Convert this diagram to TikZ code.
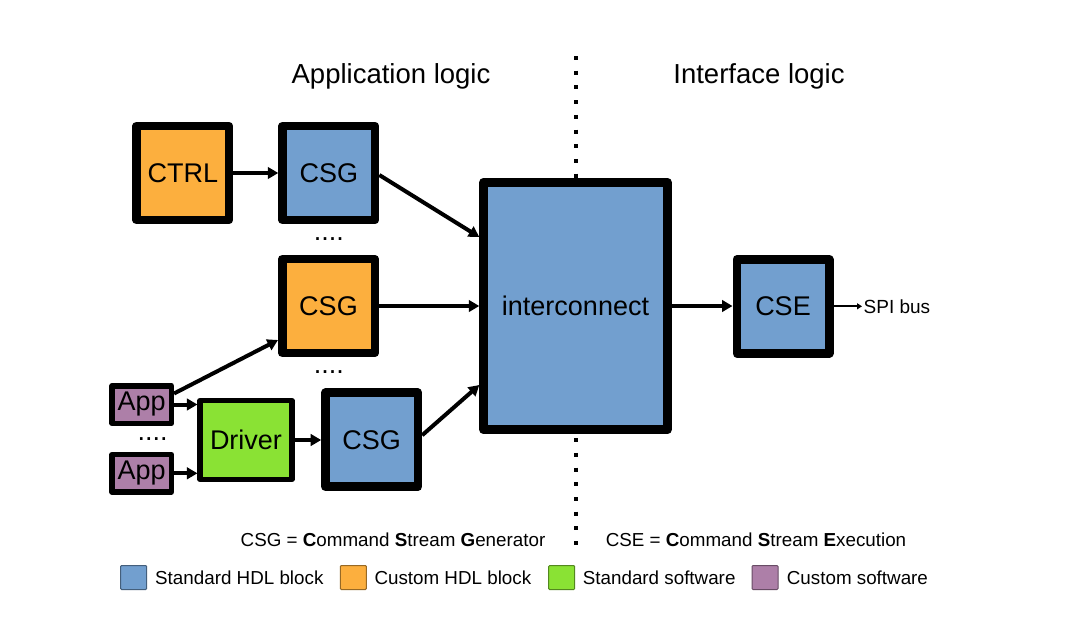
\documentclass[tikz,border=0pt]{standalone}
\usepackage{fontspec}
\setmainfont{Liberation Sans}
\usetikzlibrary{arrows.meta}
\definecolor{cblue}{HTML}{729FCF}
\definecolor{corange}{HTML}{FCAF3E}
\definecolor{cgreen}{HTML}{8AE234}
\definecolor{cpurple}{HTML}{AD7FA8}
\begin{document}
\begin{tikzpicture}[x=1pt,y=-1pt,
  blk/.style={draw=black, line width=8.5pt, line join=round, minimum width=92.5pt, minimum height=94pt, inner sep=0pt, font=\fontsize{27}{30}\selectfont},
  swbox/.style={draw=black, line width=5.5pt, line join=round, inner sep=0pt, font=\fontsize{27}{30}\selectfont},
  arr/.style={line width=4pt, -{Triangle[length=10.5pt,width=11.5pt]}},
  thinarr/.style={line width=1.8pt, -{Triangle[length=5pt,width=6pt]}},
  title/.style={font=\fontsize{27.5}{30}\selectfont, anchor=base},
  dotsty/.style={font=\fontsize{27}{30}\selectfont, anchor=base, inner sep=0pt},
  note/.style={font=\fontsize{18.8}{22}\selectfont, inner sep=0pt},
  legsw/.style={line width=1pt, minimum width=26pt, minimum height=24pt, inner sep=0pt, rounded corners=1pt},
  legtxt/.style={font=\fontsize{18.8}{22}\selectfont, inner sep=0pt, anchor=west},
  dotline/.style={line width=4pt, dash pattern=on 4pt off 10.7pt}
]
\useasboundingbox[fill=white] (0,0) rectangle (1070,621);

% titles
\node[title] (tapp) at (391,83) {Application logic};
\node[title] (tif) at (759,83) {Interface logic};

% dotted separator
\coordinate (dtop) at (576,56);
\coordinate (dbot) at (576,552);
\draw[dotline] (dtop) -- (dbot);

% blocks
\node[blk, fill=corange] (ctrl) at (182.8,173) {CTRL};
\node[blk, fill=cblue] (csg1) at (328.8,173) {CSG};
\node[blk, fill=corange] (csg2) at (328.5,306) {CSG};
\node[blk, fill=cblue] (csg3) at (371.7,439.7) {CSG};
\node[blk, fill=cblue, line width=9pt, minimum width=183.4pt, minimum height=247.6pt] (ic) at (575.5,306) {interconnect};
\node[blk, fill=cblue] (cse) at (783,306.3) {CSE};
\node[swbox, fill=cgreen, minimum width=91.6pt, minimum height=78.7pt] (drv) at (246,440) {Driver};
\node[swbox, fill=cpurple, minimum width=59.2pt, minimum height=37.5pt] (app1) at (141.7,404.5) {App};
\node[swbox, fill=cpurple, minimum width=59.2pt, minimum height=37.5pt] (app2) at (141.7,473.3) {App};
\node[font=\fontsize{19}{22}\selectfont, anchor=west, inner sep=1.5pt] (spi) at (862,306.7) {SPI bus};

% ellipses
\node[dotsty] (d1) at (328.8,240) {....};
\node[dotsty] (d2) at (328.8,373.5) {....};
\node[dotsty] (d3) at (152.7,440) {....};

% connectors
\draw[arr] (ctrl.east) -- (csg1.west);
\draw[arr] ([yshift=-2pt]csg1.east) -- ([yshift=69pt]ic.west);
\draw[arr] (csg2.east) -- (ic.west);
\draw[arr] ([yshift=4.5pt]csg3.east) -- ([yshift=-79pt]ic.west);
\draw[arr] ([yshift=11pt]app1.east) -- ([yshift=-34pt]csg2.west);
\draw[arr] (app1.east) -- (app1.east -| drv.west);
\draw[arr] (app2.east) -- (app2.east -| drv.west);
\draw[arr] (drv.east) -- (drv.east -| csg3.west);
\draw[arr] (ic.east) -- (ic.east -| cse.west);
\draw[thinarr] (cse.east) -- (cse.east -| spi.west);

% notes
\node[note] (n1) at (393,540) {CSG = \textbf{C}ommand \textbf{S}tream \textbf{G}enerator};
\node[note] (n2) at (756,540) {CSE = \textbf{C}ommand \textbf{S}tream \textbf{E}xecution};

% legend
\node[legsw, fill=cblue, draw=cblue!60!black] (l1) at (133.6,577.5) {};
\node[legtxt] (t1) at (155,578) {Standard HDL block};
\node[legsw, fill=corange, draw=corange!60!black] (l2) at (353.3,577.5) {};
\node[legtxt] (t2) at (374.3,578) {Custom HDL block};
\node[legsw, fill=cgreen, draw=cgreen!60!black] (l3) at (561.7,577.5) {};
\node[legtxt] (t3) at (582.7,578) {Standard software};
\node[legsw, fill=cpurple, draw=cpurple!60!black] (l4) at (765,577.5) {};
\node[legtxt] (t4) at (786.7,578) {Custom software};
\end{tikzpicture}
\end{document}
